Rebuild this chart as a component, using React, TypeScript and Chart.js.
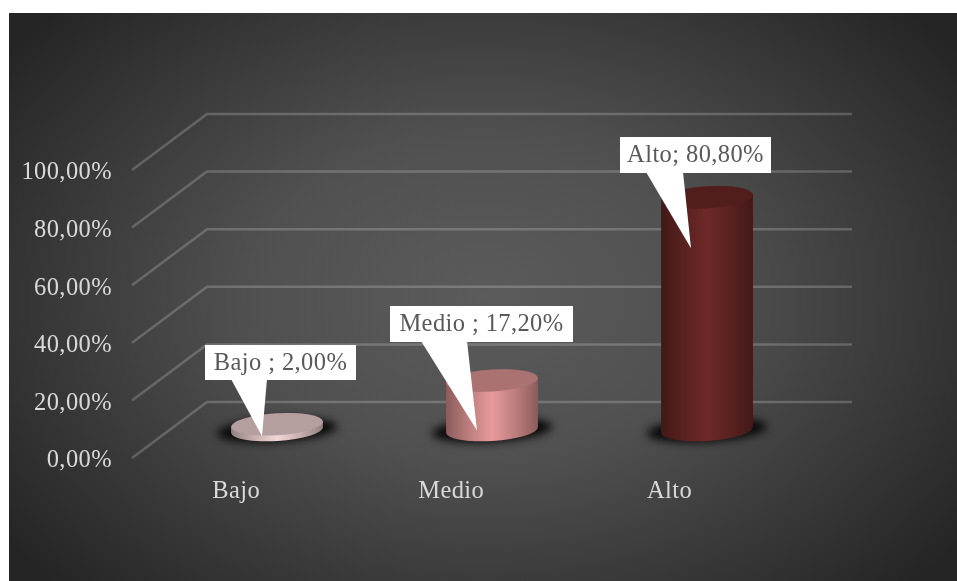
import React, { useEffect, useRef } from "react";
import { Chart, registerables } from "chart.js";

Chart.register(...registerables);

const categories = ["Bajo ", "Medio ", "Alto"];
const seriesValues = [2.0, 17.2, 80.8];
const barColors = ["#f3d6d6", "#e79a9a", "#6d2927"];
const yTicks = { min: 0, max: 100, step: 20 };

// Depth of the floor: the back wall sits up and to the right of the front edge.
const DEPTH_X = 75;
const DEPTH_Y = 56;
const TILT = (-3.5 * Math.PI) / 180;
const ELLIPSE_RY = 11;
const FONT = '"Liberation Serif", serif';
const FONT_SIZE = 24.5;

// Callout boxes: box rectangle, wedge base on the box's lower edge, wedge tip offset from bar centre.
const callouts = [
  { x: 205, y: 345, w: 151, h: 35, wedge: [231, 267], tipDx: -15, tipDy: 12 },
  { x: 390, y: 306, w: 183, h: 36, wedge: [421, 467], tipDx: -15, tipDy: 50 },
  { x: 620, y: 137, w: 151, h: 36, wedge: [646, 683], tipDx: -16, tipDy: 51 },
];

const formatPercent = (v: number) => v.toFixed(2).replace(".", ",") + "%";

function shade(hex: string, f: number) {
  const n = parseInt(hex.slice(1), 16);
  const c = [(n >> 16) & 255, (n >> 8) & 255, n & 255].map((v) => Math.round(v * f));
  return `rgb(${c[0]},${c[1]},${c[2]})`;
}

// Panel, side walls and gridlines behind everything else.
const backdropPlugin = {
  id: "backdrop",
  beforeDraw(chart: any) {
    const { ctx, scales } = chart;
    ctx.letterSpacing = "0.4px";
    ctx.save();
    ctx.translate(483, 297);
    ctx.scale(1, 0.7);
    const g = ctx.createRadialGradient(0, 0, 0, 0, 0, 590);
    g.addColorStop(0, "#5b5b5b");
    g.addColorStop(0.4, "#505050");
    g.addColorStop(1, "#252525");
    ctx.fillStyle = g;
    ctx.fillRect(-483, -800, 1000, 1600);
    ctx.restore();
    ctx.fillStyle = "#ffffff";
    ctx.fillRect(0, 0, 957, 13);
    ctx.fillRect(0, 0, 9, 581);

    const y = scales.y;
    const left = scales.x.left;
    const right = scales.x.right;
    ctx.save();
    ctx.strokeStyle = "rgba(255,255,255,0.2)";
    ctx.lineWidth = 2.5;
    ctx.lineJoin = "round";
    for (let v = yTicks.min; v <= yTicks.max; v += yTicks.step) {
      const py = y.getPixelForValue(v);
      ctx.beginPath();
      ctx.moveTo(left, py);
      ctx.lineTo(left + DEPTH_X, py - DEPTH_Y);
      ctx.lineTo(right + DEPTH_X, py - DEPTH_Y);
      ctx.stroke();
    }
    ctx.restore();
  },
};

// Bars are rendered as cylinders standing halfway back on the floor.
const cylinderPlugin = {
  id: "cylinders",
  beforeDatasetDraw(chart: any, args: any) {
    const { ctx } = chart;
    const meta = args.meta;
    const ox = DEPTH_X / 2;
    const oy = -DEPTH_Y / 2;

    meta.data.forEach((bar: any) => {
      const cx = bar.x + ox;
      const baseY = bar.base + oy;
      const rx = bar.width / 2;
      ctx.save();
      ctx.filter = "blur(4px)";
      ctx.fillStyle = "#0a0a0a";
      ctx.beginPath();
      ctx.ellipse(cx, baseY, rx + 14, ELLIPSE_RY + 1, TILT, 0, Math.PI * 2);
      ctx.fill();
      ctx.restore();
    });

    meta.data.forEach((bar: any) => {
      const cx = bar.x + ox;
      const baseY = bar.base + oy;
      const topY = bar.y + oy;
      const rx = bar.width / 2;
      const color = bar.options.backgroundColor;
      const dx = rx * Math.cos(TILT);
      const dy = rx * Math.sin(TILT);

      const side = ctx.createLinearGradient(cx - rx, 0, cx + rx, 0);
      side.addColorStop(0, shade(color, 0.6));
      side.addColorStop(0.25, shade(color, 0.82));
      side.addColorStop(0.5, color);
      side.addColorStop(0.75, shade(color, 0.82));
      side.addColorStop(1, shade(color, 0.6));

      ctx.save();
      ctx.fillStyle = side;
      ctx.beginPath();
      ctx.moveTo(cx - dx, topY - dy);
      ctx.lineTo(cx - dx, baseY - dy);
      ctx.ellipse(cx, baseY, rx, ELLIPSE_RY, TILT, Math.PI, 0, true);
      ctx.lineTo(cx + dx, topY + dy);
      ctx.closePath();
      ctx.fill();

      ctx.fillStyle = shade(color, 0.74);
      ctx.beginPath();
      ctx.ellipse(cx, topY, rx, ELLIPSE_RY, TILT, 0, Math.PI * 2);
      ctx.fill();
      ctx.restore();
    });
    return false;
  },
  // White callouts naming category and value, with a wedge into each cylinder.
  afterDatasetsDraw(chart: any) {
    const { ctx } = chart;
    const meta = chart.getDatasetMeta(0);
    callouts.forEach((c, i) => {
      const bar = meta.data[i];
      const tipX = bar.x + DEPTH_X / 2 + c.tipDx;
      const tipY = bar.y - DEPTH_Y / 2 + c.tipDy;
      ctx.save();
      ctx.fillStyle = "#ffffff";
      ctx.fillRect(c.x, c.y, c.w, c.h);
      ctx.beginPath();
      ctx.moveTo(c.wedge[0], c.y + c.h - 1);
      ctx.lineTo(tipX, tipY);
      ctx.lineTo(c.wedge[1], c.y + c.h - 1);
      ctx.closePath();
      ctx.fill();
      ctx.fillStyle = "#595959";
      ctx.font = `${FONT_SIZE}px ${FONT}`;
      ctx.textAlign = "center";
      ctx.textBaseline = "middle";
      ctx.fillText(`${categories[i]}; ${formatPercent(seriesValues[i])}`, c.x + c.w / 2, c.y + c.h / 2 + 1);
      ctx.restore();
    });
  },
};

export default function App() {
  const ref = useRef<HTMLCanvasElement>(null);
  useEffect(() => {
    const chart = new Chart(ref.current as HTMLCanvasElement, {
      type: "bar",
      data: {
        labels: categories,
        datasets: [
          {
            data: seriesValues,
            backgroundColor: barColors,
            barPercentage: 0.428,
            categoryPercentage: 1,
          },
        ],
      },
      options: {
        responsive: false,
        animation: false,
        layout: { padding: { left: 0, top: 170, right: 180, bottom: 0 } },
        plugins: { legend: { display: false }, tooltip: { enabled: false } },
        scales: {
          x: {
            grid: { display: false },
            border: { display: false },
            afterFit: (s: any) => {
              s.height = 123;
            },
            ticks: {
              color: "#d9d9d9",
              font: { family: FONT, size: FONT_SIZE },
              padding: 11,
              maxRotation: 0,
              autoSkip: false,
            },
          },
          y: {
            min: yTicks.min,
            max: yTicks.max,
            grid: { display: false, drawTicks: false },
            border: { display: false },
            afterFit: (s: any) => {
              s.width = 132;
            },
            ticks: {
              stepSize: yTicks.step,
              color: "#d9d9d9",
              font: { family: FONT, size: FONT_SIZE },
              padding: 20,
              labelOffset: 3,
              callback: (v: any) => formatPercent(Number(v)),
            },
          },
        },
      },
      plugins: [backdropPlugin, cylinderPlugin],
    } as any);
    return () => chart.destroy();
  }, []);
  return (
    <div style={{ position: "absolute", left: 0, top: 0, width: 957, height: 581, overflow: "hidden" }}>
      <canvas ref={ref} width={957} height={581} style={{ display: "block" }} />
    </div>
  );
}
